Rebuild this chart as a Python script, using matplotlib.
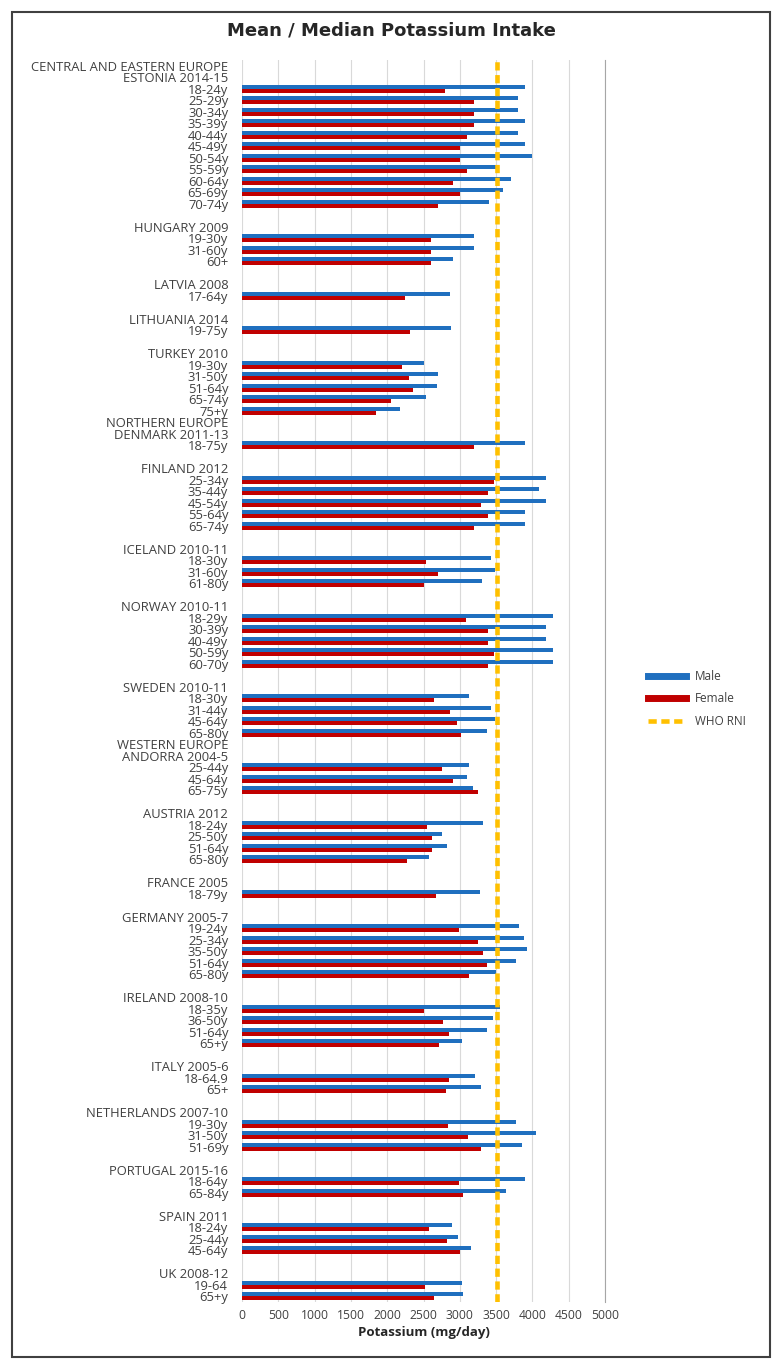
import numpy as np
import matplotlib
matplotlib.use("Agg")
import matplotlib.pyplot as plt
from matplotlib.lines import Line2D
from matplotlib.patches import Rectangle

plt.rcParams['font.family'] = ['Open Sans', 'DejaVu Sans']

N = None
# rows top -> bottom, blank label = spacer row
labels = [
    "CENTRAL AND EASTERN EUROPE", "ESTONIA 2014-15", "18-24y", "25-29y", "30-34y", "35-39y",
    "40-44y", "45-49y", "50-54y", "55-59y", "60-64y", "65-69y", "70-74y", "",
    "HUNGARY 2009", "19-30y", "31-60y", "60+", "",
    "LATVIA 2008", "17-64y", "",
    "LITHUANIA 2014", "19-75y", "",
    "TURKEY 2010", "19-30y", "31-50y", "51-64y", "65-74y", "75+y",
    "NORTHERN EUROPE", "DENMARK 2011-13", "18-75y", "",
    "FINLAND 2012", "25-34y", "35-44y", "45-54y", "55-64y", "65-74y", "",
    "ICELAND 2010-11", "18-30y", "31-60y", "61-80y", "",
    "NORWAY 2010-11", "18-29y", "30-39y", "40-49y", "50-59y", "60-70y", "",
    "SWEDEN 2010-11", "18-30y", "31-44y", "45-64y", "65-80y",
    "WESTERN EUROPE", "ANDORRA 2004-5", "25-44y", "45-64y", "65-75y", "",
    "AUSTRIA 2012", "18-24y", "25-50y", "51-64y", "65-80y", "",
    "FRANCE 2005", "18-79y", "",
    "GERMANY 2005-7", "19-24y", "25-34y", "35-50y", "51-64y", "65-80y", "",
    "IRELAND 2008-10", "18-35y", "36-50y", "51-64y", "65+y", "",
    "ITALY 2005-6", "18-64.9", "65+", "",
    "NETHERLANDS 2007-10", "19-30y", "31-50y", "51-69y", "",
    "PORTUGAL 2015-16", "18-64y", "65-84y", "",
    "SPAIN 2011", "18-24y", "25-44y", "45-64y", "",
    "UK 2008-12", "19-64", "65+y",
]

male = [
    N, N, 3900, 3800, 3800, 3900, 3800, 3900, 4000, 3500, 3700, 3600, 3400, N,
    N, 3200, 3200, 2900, N,
    N, 2860, N,
    N, 2880, N,
    N, 2500, 2700, 2680, 2530, 2180,
    N, N, 3900, N,
    N, 4190, 4090, 4190, 3900, 3900, N,
    N, 3430, 3480, 3300, N,
    N, 4290, 4190, 4190, 4290, 4290, N,
    N, 3130, 3430, 3490, 3380,
    N, N, 3120, 3100, 3180, N,
    N, 3320, 2760, 2820, 2580, N,
    N, 3280, N,
    N, 3810, 3890, 3930, 3770, 3500, N,
    N, 3560, 3450, 3380, 3030, N,
    N, 3210, 3290, N,
    N, 3770, 4050, 3860, N,
    N, 3900, 3630, N,
    N, 2890, 2980, 3160, N,
    N, 3030, 3050,
]

female = [
    N, N, 2800, 3200, 3200, 3200, 3100, 3000, 3000, 3100, 2900, 3000, 2700, N,
    N, 2600, 2600, 2600, N,
    N, 2240, N,
    N, 2310, N,
    N, 2210, 2300, 2350, 2050, 1850,
    N, N, 3190, N,
    N, 3470, 3390, 3290, 3390, 3190, N,
    N, 2530, 2700, 2510, N,
    N, 3080, 3390, 3390, 3470, 3390, N,
    N, 2640, 2860, 2960, 3010,
    N, N, 2750, 2900, 3250, N,
    N, 2550, 2620, 2610, 2270, N,
    N, 2670, N,
    N, 2990, 3250, 3320, 3380, 3120, N,
    N, 2500, 2770, 2850, 2710, N,
    N, 2850, 2810, N,
    N, 2840, 3110, 3290, N,
    N, 2990, 3040, N,
    N, 2580, 2820, 3000, N,
    N, 2520, 2640,
]

who_rni = 3510

m = np.array(male, dtype=float)
f = np.array(female, dtype=float)
y = np.arange(len(labels))

fig = plt.figure(figsize=(7.82, 13.69), dpi=100)
ax = fig.add_axes([0.3095, 0.0489, 0.4642, 0.9073])

h = 0.36
ax.barh(y - h / 2, np.nan_to_num(m), height=h, color='#1f6fbf', zorder=2)
ax.barh(y + h / 2, np.nan_to_num(f), height=h, color='#c00000', zorder=2)
dash = (0, (1.8, 1.0))
ax.axvline(who_rni, color='#ffc000', lw=3.3, ls=dash, zorder=3)

ax.set_ylim(len(labels) - 0.5, -0.5)
ax.set_xlim(0, 5000)
ax.set_xticks(np.arange(0, 5001, 500))
ax.set_yticks(y)
ax.set_yticklabels(labels, fontsize=9.4, color='#404040')
ax.tick_params(axis='y', length=0, pad=10)
ax.tick_params(axis='x', length=0, labelsize=8.7, labelcolor='#404040', pad=5)
ax.grid(axis='x', color='#d9d9d9', lw=0.8, zorder=0)
for s in ['top', 'left', 'bottom']:
    ax.spines[s].set_visible(False)
ax.spines['right'].set_color('#a6a6a6')
ax.set_xlabel('Potassium (mg/day)', fontsize=9.5, fontweight='bold', color='#262626', labelpad=3)

fig.text(0.5, 0.978, 'Mean / Median Potassium Intake', ha='center', va='center',
         fontsize=13, fontweight='bold', family='DejaVu Sans', color='#262626')

handles = [Line2D([], [], color='#1f6fbf', lw=5),
           Line2D([], [], color='#c00000', lw=5),
           Line2D([], [], color='#ffc000', lw=3.3, ls=dash)]
fig.legend(handles, ['Male', 'Female', 'WHO RNI'], loc='center left',
           bbox_to_anchor=(0.815, 0.4895), frameon=False, fontsize=8.5,
           labelcolor='#404040', handlelength=3.2, labelspacing=0.8)

fig.patches.append(Rectangle((12 / 782, 12 / 1369), 758 / 782, 1345 / 1369,
                             transform=fig.transFigure, fill=False,
                             edgecolor='#404040', lw=1.5))

fig.savefig('out.png', dpi=100)
